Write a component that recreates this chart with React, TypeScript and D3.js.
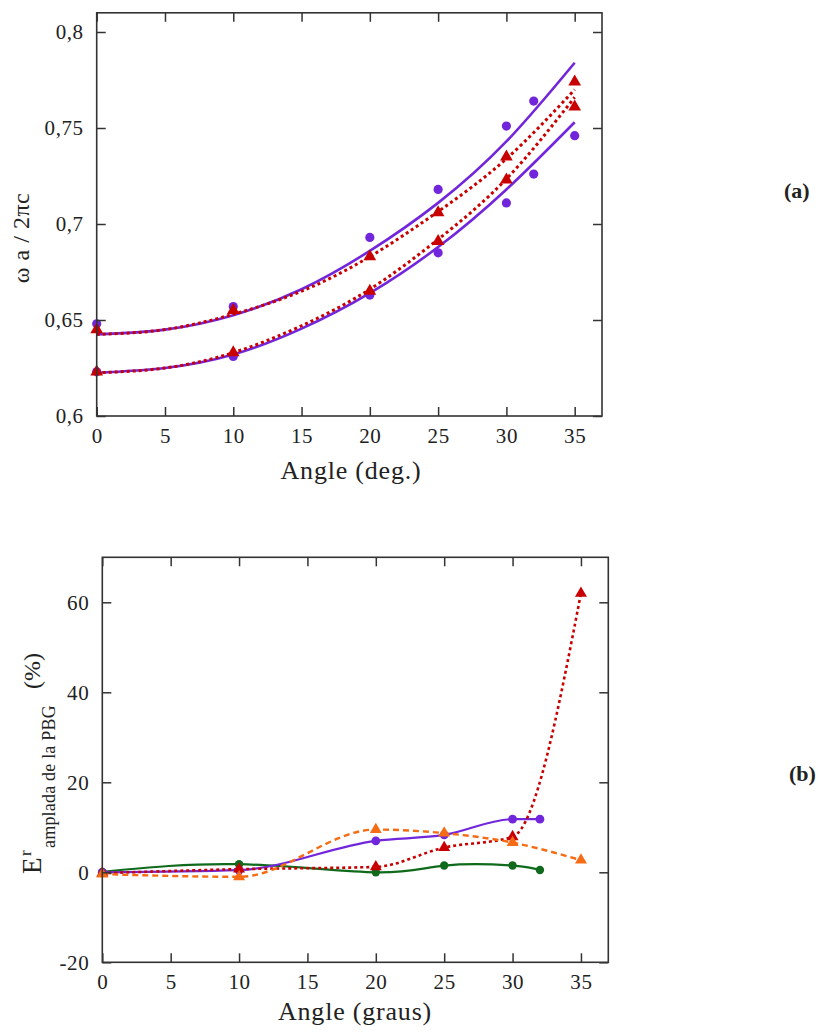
import React, { useEffect, useRef } from "react";
import * as d3 from "d3";

// panel (a): photonic band edges vs angle
const upperCircleAngles = [0, 10, 20, 25, 30, 32];
const upperCircles = [0.648, 0.657, 0.693, 0.718, 0.751, 0.764];
const lowerCircleAngles = [0, 10, 20, 25, 30, 32, 35];
const lowerCircles = [0.623, 0.631, 0.663, 0.685, 0.711, 0.726, 0.746];
const triangleAngles = [0, 10, 20, 25, 30, 35];
const upperTriangles = [0.645, 0.655, 0.683, 0.706, 0.735, 0.774];
const lowerTriangles = [0.623, 0.633, 0.665, 0.691, 0.723, 0.761];
const fitAngles = [0, 5, 10, 15, 20, 25, 30, 35];
const fitPurpleUpper = [0.6425, 0.645, 0.6525, 0.666, 0.686, 0.711, 0.743, 0.784];
const fitPurpleLower = [0.6225, 0.625, 0.632, 0.6455, 0.664, 0.688, 0.718, 0.753];
const fitRedUpper = [0.6425, 0.645, 0.653, 0.665, 0.683, 0.7065, 0.734, 0.77];
const fitRedLower = [0.6225, 0.625, 0.633, 0.647, 0.666, 0.692, 0.7235, 0.766];
const topXTicks = [0, 5, 10, 15, 20, 25, 30, 35];
const topYTicks = [0.6, 0.65, 0.7, 0.75, 0.8];

// panel (b): relative error of the gap width
const circleAnglesB = [0, 10, 20, 25, 30, 32];
const purpleErr = [0, 0.5, 7.0, 8.3, 11.8, 11.8];
const greenErr = [0.1, 1.8, 0, 1.5, 1.5, 0.5];
const triangleAnglesB = [0, 10, 20, 25, 30, 35];
const redErr = [-0.2, 0.7, 1.2, 5.5, 7.9, 62];
const orangeErr = [-0.4, -1.0, 9.5, 8.7, 6.6, 2.7];
const botXTicks = [0, 5, 10, 15, 20, 25, 30, 35];
const botYTicks = [-20, 0, 20, 40, 60];

const PURPLE = "#7226dc";
const RED = "#c80000";
const ORANGE = "#f56c14";
const GREEN = "#0f6a1c";
const FONT = "Liberation Serif, DejaVu Serif, serif";

const pairs = (xs: number[], ys: number[]) => xs.map((x, i) => [x, ys[i]] as [number, number]);

function drawFrame(svg: any, x: any, y: any, xTicks: number[], yTicks: number[], yFmt: (v: number) => string) {
  const [x0, x1] = x.range();
  const [y0, y1] = y.range();
  const g = svg.append("g");

  const styleAxis = (a: any) => {
    a.attr("font-family", null).attr("font-size", null);
    a.select(".domain").remove();
    a.selectAll("line").attr("stroke", "#333").attr("stroke-width", 1.5);
    a.selectAll("text")
      .style("font-family", FONT)
      .style("font-size", "21px")
      .style("letter-spacing", "0.6px")
      .attr("fill", "#222");
  };

  g.append("g").attr("transform", `translate(0,${y0})`)
    .call(d3.axisBottom(x).tickValues(xTicks).tickSize(-9).tickPadding(12).tickFormat((d: any) => String(d)))
    .call(styleAxis);
  g.append("g").attr("transform", `translate(0,${y1})`)
    .call(d3.axisTop(x).tickValues(xTicks).tickSize(-9).tickFormat(() => ""))
    .call(styleAxis);
  g.append("g").attr("transform", `translate(${x0},0)`)
    .call(d3.axisLeft(y).tickValues(yTicks).tickSize(-9).tickPadding(13).tickFormat((d: any) => yFmt(d)))
    .call(styleAxis);
  g.append("g").attr("transform", `translate(${x1},0)`)
    .call(d3.axisRight(y).tickValues(yTicks).tickSize(-9).tickFormat(() => ""))
    .call(styleAxis);

  g.append("rect")
    .attr("x", x0).attr("y", y1).attr("width", x1 - x0).attr("height", y0 - y1)
    .attr("fill", "none").attr("stroke", "#333").attr("stroke-width", 1.6);
}

function drawCurve(g: any, line: any, pts: [number, number][], color: string, width: number, dash?: string) {
  g.append("path")
    .attr("d", line(pts))
    .attr("fill", "none")
    .attr("stroke", color)
    .attr("stroke-width", width)
    .attr("stroke-dasharray", dash || null);
}

function drawCircles(g: any, x: any, y: any, pts: [number, number][], color: string, r: number) {
  g.selectAll(null).data(pts).enter().append("circle")
    .attr("cx", (d: any) => x(d[0])).attr("cy", (d: any) => y(d[1]))
    .attr("r", r).attr("fill", color);
}

function drawTriangles(g: any, x: any, y: any, pts: [number, number][], color: string, size: number) {
  const sym = d3.symbol(d3.symbolTriangle, size);
  g.selectAll(null).data(pts).enter().append("path")
    .attr("d", sym())
    .attr("transform", (d: any) => `translate(${x(d[0])},${y(d[1])})`)
    .attr("fill", color);
}

const addText = (svg: any, x: number, y: number, size: number, s: string, anchor = "start", rotate = false, weight = "normal", spacing = 0) =>
  svg.append("text")
    .attr("transform", rotate ? `translate(${x},${y}) rotate(-90)` : `translate(${x},${y})`)
    .attr("text-anchor", anchor)
    .style("font-family", FONT)
    .style("font-size", `${size}px`)
    .style("font-weight", weight)
    .style("letter-spacing", `${spacing}px`)
    .attr("fill", "#222")
    .text(s);

const App = () => {
  const ref = useRef<SVGSVGElement>(null);

  useEffect(() => {
    const svg = d3.select(ref.current);
    svg.selectAll("*").remove();

    // ---------- panel (a)
    const xa = d3.scaleLinear().domain([0, 37]).range([96.7, 602]);
    const ya = d3.scaleLinear().domain([0.6, 0.81]).range([416, 12.8]);
    const lineA = d3.line<[number, number]>().x((d) => xa(d[0])).y((d) => ya(d[1])).curve(d3.curveNatural);
    const ga = svg.append("g");

    drawCurve(ga, lineA, pairs(fitAngles, fitPurpleUpper), PURPLE, 2.6);
    drawCurve(ga, lineA, pairs(fitAngles, fitPurpleLower), PURPLE, 2.6);
    drawCurve(ga, lineA, pairs(fitAngles, fitRedUpper), RED, 3, "3,3");
    drawCurve(ga, lineA, pairs(fitAngles, fitRedLower), RED, 3, "3,3");
    drawCircles(ga, xa, ya, pairs(upperCircleAngles, upperCircles), PURPLE, 4.6);
    drawCircles(ga, xa, ya, pairs(lowerCircleAngles, lowerCircles), PURPLE, 4.6);
    drawTriangles(ga, xa, ya, pairs(triangleAngles, upperTriangles), RED, 70);
    drawTriangles(ga, xa, ya, pairs(triangleAngles, lowerTriangles), RED, 70);

    drawFrame(svg, xa, ya, topXTicks, topYTicks, (v) => d3.format(".2~f")(v).replace(".", ","));

    addText(svg, 351, 479, 26, "Angle (deg.)", "middle", false, "normal", 0.8);
    addText(svg, 29, 238, 24, "ω a / 2πc", "middle", true, "normal", 0.5);
    addText(svg, 784, 198, 22, "(a)", "start", false, "bold");

    // ---------- panel (b)
    const xb = d3.scaleLinear().domain([0, 37]).range([102.3, 608.3]);
    const yb = d3.scaleLinear().domain([-20, 70]).range([962.3, 557.3]);
    const lineNat = d3.line<[number, number]>().x((d) => xb(d[0])).y((d) => yb(d[1])).curve(d3.curveNatural);
    const lineMono = d3.line<[number, number]>().x((d) => xb(d[0])).y((d) => yb(d[1])).curve(d3.curveMonotoneX);
    const gb = svg.append("g");

    drawCurve(gb, lineNat, pairs(circleAnglesB, greenErr), GREEN, 2.2);
    drawCurve(gb, lineMono, pairs(circleAnglesB, purpleErr), PURPLE, 2.2);
    drawCurve(gb, lineMono, pairs(triangleAnglesB, redErr), RED, 2.6, "3,3");
    drawCurve(gb, lineMono, pairs(triangleAnglesB, orangeErr), ORANGE, 2.4, "6,4");
    drawCircles(gb, xb, yb, pairs(circleAnglesB, greenErr), GREEN, 4.2);
    drawCircles(gb, xb, yb, pairs(circleAnglesB, purpleErr), PURPLE, 4.4);
    drawTriangles(gb, xb, yb, pairs(triangleAnglesB, redErr), RED, 62);
    drawTriangles(gb, xb, yb, pairs(triangleAnglesB, orangeErr), ORANGE, 62);

    drawFrame(svg, xb, yb, botXTicks, botYTicks, (v) => String(v));

    addText(svg, 355, 1020, 26, "Angle (graus)", "middle", false, "normal", 0.8);
    addText(svg, 41, 874, 27, "E", "start", true);
    addText(svg, 31, 856, 17, "r", "start", true);
    addText(svg, 55, 848, 18, "amplada de la PBG", "start", true, "normal", 0.2);
    addText(svg, 40, 689, 24, "(%)", "start", true);
    addText(svg, 789, 781, 22, "(b)", "start", false, "bold");
  }, []);

  return (
    <svg
      ref={ref}
      width={818}
      height={1032}
      style={{ position: "absolute", left: 0, top: 0, background: "#fff" }}
    />
  );
};

export default App;
